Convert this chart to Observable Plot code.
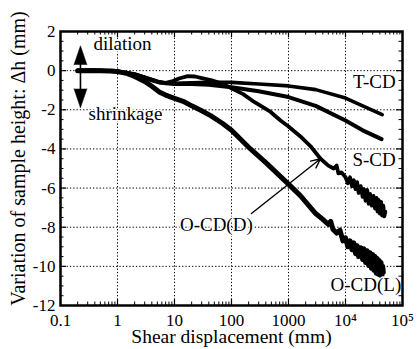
<!DOCTYPE html>
<html>
<head>
<meta charset="utf-8">
<script src="https://cdn.jsdelivr.net/npm/d3@7"></script>
<script src="https://cdn.jsdelivr.net/npm/@observablehq/plot@0.6"></script>
<style>
  html, body { margin: 0; padding: 0; background: white; }
</style>
</head>
<body>
<div id="chart"></div>
<script>
// ---- data ----
const tcdX = [0.2, 0.5, 1, 2, 3, 5, 7, 10, 20, 40, 100, 300, 1000, 3000, 10000, 20000, 44000];
const tcdY = [0, 0, -0.03, -0.18, -0.35, -0.55, -0.62, -0.65, -0.62, -0.6, -0.6, -0.68, -0.78, -0.97, -1.4, -1.8, -2.25];

const scdX = [0.2, 0.5, 1, 2, 3, 5, 7, 10, 20, 40, 100, 300, 1000, 3000, 10000, 20000, 43000];
const scdY = [0, 0, -0.03, -0.18, -0.35, -0.55, -0.65, -0.68, -0.68, -0.72, -0.85, -1.05, -1.35, -1.8, -2.55, -3.05, -3.5];

const ocdDX = [0.2, 0.35, 0.5, 0.7, 1, 1.5, 2, 3, 4, 5.5, 7, 9, 12, 17, 23, 30, 45, 65, 100, 160, 250, 480, 725, 1000, 1600, 2500, 3650, 5000, 6200, 7000, 7500, 8500, 10000, 11000, 12000, 13000, 14000, 15000, 16000, 17000, 18500, 20000, 21000, 22500, 24000, 25500, 27000, 29000, 31000, 33000, 35000, 36500, 38000, 40000, 42000, 44000, 46000, 48000, 50000];
const ocdDY = [0, 0.02, 0, -0.02, -0.05, -0.12, -0.2, -0.35, -0.5, -0.62, -0.62, -0.55, -0.4, -0.28, -0.3, -0.38, -0.5, -0.65, -0.9, -1.2, -1.6, -2.1, -2.55, -2.85, -3.35, -3.9, -4.5, -4.85, -5.0, -4.85, -5.25, -5.2, -5.45, -5.75, -5.45, -5.9, -5.6, -6.05, -5.7, -6.25, -5.9, -6.45, -6.05, -6.65, -6.1, -6.8, -6.3, -6.9, -6.4, -7.05, -6.5, -7.2, -6.6, -7.3, -6.7, -7.4, -6.9, -7.45, -7.2];

const ocdLX = [0.2, 0.5, 0.8, 1, 1.5, 2, 3, 4, 5.5, 7, 10, 15, 20, 30, 43, 70, 100, 215, 400, 1000, 1630, 2000, 3000, 4000, 5000, 5500, 6000, 7000, 8000, 9000, 10000, 11000, 12000, 13000, 14000, 15000, 16000, 17000, 18500, 20000, 21000, 22500, 24000, 25500, 27000, 28500, 30000, 31500, 33000, 34500, 36000, 37500, 39000, 40500, 42000, 43500, 45000, 46000];
const ocdLY = [0, 0, -0.02, -0.05, -0.15, -0.3, -0.55, -0.8, -1.1, -1.25, -1.42, -1.6, -1.8, -2.05, -2.3, -2.7, -3.05, -4.0, -4.7, -5.8, -6.4, -6.7, -7.3, -7.6, -7.85, -7.7, -8.1, -8.3, -8.15, -8.7, -8.55, -9.0, -8.7, -9.15, -8.8, -9.35, -8.95, -9.5, -9.05, -9.65, -9.1, -9.8, -9.2, -9.95, -9.3, -10.1, -9.4, -10.2, -9.5, -10.35, -9.6, -10.4, -9.7, -10.45, -9.8, -10.5, -10.0, -10.3];

const xMajorTicks = [0.1, 1, 10, 100, 1000, 10000, 100000];
const xTickLabels = ["0.1", "1", "10", "100", "1000", "10\u2074", "10\u2075"];
const yMajorTicks = [-12, -10, -8, -6, -4, -2, 0, 2];

const seriesLabels = [
  {name: "T-CD", x: 76000, y: -0.6},
  {name: "S-CD", x: 76000, y: -4.55},
  {name: "O-CD(D)", x: 236, y: -7.9},
  {name: "O-CD(L)", x: 95000, y: -10.95}
];
const noteLabels = [
  {name: "dilation", x: 0.38, y: 1.36},
  {name: "shrinkage", x: 0.31, y: -2.2}
];
const pointer = [{x1: 224, y1: -7.3, x2: 3650, y2: -4.5}];
const dirArrowX = 0.224;
const dirArrowTips = [1.27, -1.9];
const dirArrowHeads = [{y: 0.3, rot: 0}, {y: -0.93, rot: 180}];

// ---- pick an installed serif font ----
function pickFont(cands) {
  const c = document.createElement("canvas").getContext("2d");
  const s = "Shear displacement Variation of sample 0123456789";
  for (const f of cands) {
    c.font = `20px "${f}", monospace`;
    const w1 = c.measureText(s).width;
    c.font = `20px "${f}", sans-serif`;
    const w2 = c.measureText(s).width;
    if (Math.abs(w1 - w2) < 0.01) return `"${f}"`;
  }
  return "serif";
}
const font = pickFont(["Liberation Serif", "Times New Roman", "Tinos", "Times", "Nimbus Roman", "DejaVu Serif", "Noto Serif", "FreeSerif"]);
document.head.insertAdjacentHTML("beforeend",
  `<style>#chart svg, #chart svg text { font-family: ${font}, serif !important; }</style>`);

// ---- build ----
const zipXY = (xs, ys, s) => xs.map((x, i) => ({x, y: ys[i], s}));
const curves = [
  ...zipXY(tcdX, tcdY, "T-CD"),
  ...zipXY(scdX, scdY, "S-CD"),
  ...zipXY(ocdDX, ocdDY, "O-CD(D)"),
  ...zipXY(ocdLX, ocdLY, "O-CD(L)")
];
const widthBySeries = {"T-CD": 3.6, "S-CD": 4, "O-CD(D)": 3.8, "O-CD(L)": 5};
const xLabelMap = new Map(xMajorTicks.map((t, i) => [t, xTickLabels[i]]));

const W = 419, H = 349, mL = 60, mR = 17, mT = 31, mB = 44;
const plotW = W - mL - mR, plotH = H - mT - mB;

const xMinor = [];
for (const d of [0.1, 1, 10, 100, 1000, 10000]) for (let k = 2; k <= 9; k++) xMinor.push(d * k);
const yMinor = d3.range(-11.5, 2, 0.5).filter(v => !yMajorTicks.includes(v));
const xInner = xMajorTicks.slice(1, -1);
const yInner = yMajorTicks.slice(1, -1);

const chart = Plot.plot({
  width: W, height: H,
  marginLeft: mL, marginRight: mR, marginTop: mT, marginBottom: mB,
  style: {fontFamily: font, background: "white", color: "black"},
  x: {type: "log", domain: [0.1, 100000]},
  y: {domain: [-12, 2]},
  marks: [
    Plot.gridX(xInner, {stroke: "black", strokeOpacity: 1, strokeWidth: 1, strokeDasharray: "1.3,2"}),
    Plot.gridY(yInner, {stroke: "black", strokeOpacity: 1, strokeWidth: 1, strokeDasharray: "1.3,2"}),
    // inward ticks
    Plot.tickX(xInner, {x: d => d, insetTop: plotH - 6, strokeWidth: 1.2}),
    Plot.tickX(xInner, {x: d => d, insetBottom: plotH - 6, strokeWidth: 1.2}),
    Plot.tickX(xMinor, {x: d => d, insetTop: plotH - 3.5, strokeWidth: 1}),
    Plot.tickX(xMinor, {x: d => d, insetBottom: plotH - 3.5, strokeWidth: 1}),
    Plot.tickY(yInner, {y: d => d, insetRight: plotW - 6, strokeWidth: 1.2}),
    Plot.tickY(yInner, {y: d => d, insetLeft: plotW - 6, strokeWidth: 1.2}),
    Plot.tickY(yMinor, {y: d => d, insetRight: plotW - 3.5, strokeWidth: 1}),
    Plot.tickY(yMinor, {y: d => d, insetLeft: plotW - 3.5, strokeWidth: 1}),
    // curves
    ...Object.keys(widthBySeries).map(s =>
      Plot.line(curves.filter(d => d.s === s), {x: "x", y: "y", stroke: "black",
        strokeWidth: widthBySeries[s], strokeLinejoin: "round", strokeLinecap: "round"})),
    // annotations
    Plot.arrow(pointer, {x1: "x1", y1: "y1", x2: "x2", y2: "y2", stroke: "black",
      strokeWidth: 1.4, headLength: 11, headAngle: 50}),
    Plot.ruleX([dirArrowX], {y1: dirArrowTips[0] - 0.3, y2: dirArrowTips[1] + 0.3, stroke: "black", strokeWidth: 1.6}),
    Plot.vector(dirArrowHeads, {x: () => dirArrowX, y: "y", rotate: "rot", shape: "spike",
      anchor: "start", length: 19, r: 6.5, fill: "black", stroke: "black", strokeWidth: 0.5}),
    Plot.text(seriesLabels, {x: "x", y: "y", text: "name", textAnchor: "end", fontFamily: font,
      fontSize: 19, fill: "black", stroke: "white", strokeWidth: 3, paintOrder: "stroke"}),
    Plot.text(noteLabels, {x: "x", y: "y", text: "name", textAnchor: "start", fontFamily: font,
      fontSize: 19, fill: "black", stroke: "white", strokeWidth: 3, paintOrder: "stroke"}),
    Plot.frame({stroke: "black", strokeWidth: 2.5}),
    // axes
    Plot.axisX(xMajorTicks, {tickSize: 0, tickPadding: 8, fontSize: 17, fontFamily: font,
      tickFormat: d => xLabelMap.get(d), label: null}),
    Plot.axisY(yMajorTicks, {tickSize: 0, tickPadding: 5, fontSize: 17, fontFamily: font,
      tickFormat: d => String(d), label: null}),
    Plot.text(["Shear displacement (mm)"], {frameAnchor: "bottom", textAnchor: "middle", dy: 37,
      fontSize: 19.5, fontFamily: font, fill: "black"}),
    Plot.text(["Variation of sample height: \u0394h (mm)"], {frameAnchor: "left", textAnchor: "middle",
      dx: -42, dy: -10, rotate: -90, fontSize: 20, fontFamily: font, fill: "black"})
  ]
});
document.getElementById("chart").appendChild(chart);
</script>
</body>
</html>
